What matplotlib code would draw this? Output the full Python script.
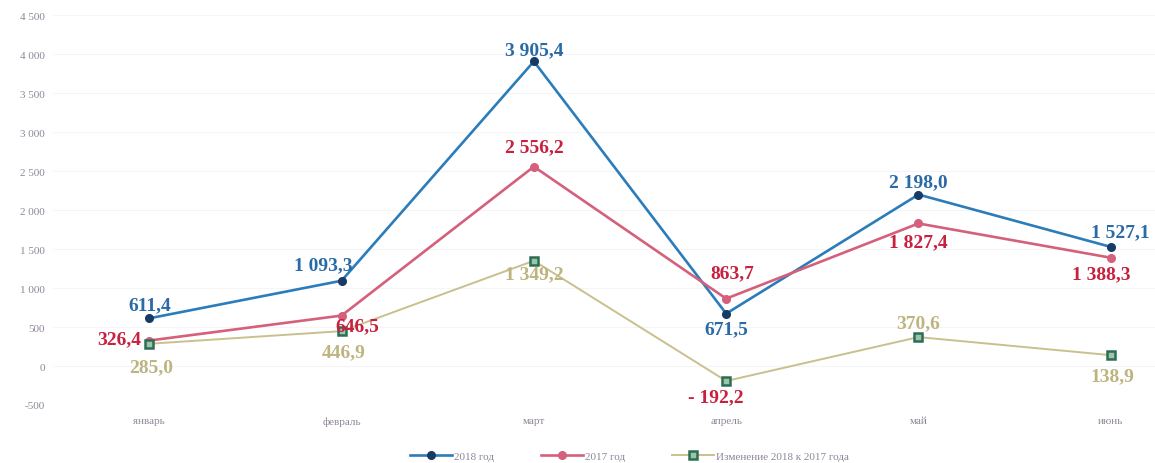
import matplotlib.pyplot as plt
import numpy as np

# Data
months = ['январь', 'февраль', 'март', 'апрель', 'май', 'июнь']
y2018 = [611.4, 1093.3, 3905.4, 671.5, 2198.0, 1527.1]
y2017 = [326.4, 646.5, 2556.2, 863.7, 1827.4, 1388.3]
change = [285.0, 446.9, 1349.2, -192.2, 370.6, 138.9]
yticks = [-500, 0, 500, 1000, 1500, 2000, 2500, 3000, 3500, 4000, 4500]


def fmt(v):
    s = f'{abs(v):,.1f}'.replace(',', ' ').replace('.', ',')
    return ('- ' if v < 0 else '') + s


serif = 'Liberation Serif'
blue_line, blue_dot, blue_txt = '#2b7cba', '#173a66', '#2a6aa6'
red_line, red_txt = '#d4607c', '#c8203f'
khaki_line, khaki_txt, green_dot = '#c9c08e', '#bdb47f', '#2a6e55'

fig = plt.figure(figsize=(11.55, 4.64), dpi=100)
ax = fig.add_axes([0.046, 0.125, 0.954, 0.8405])
x = np.arange(len(months))

ax.plot(x, y2018, color=blue_line, lw=1.9, marker='o', ms=5.5,
        mfc=blue_dot, mec=blue_dot, label='2018 год', zorder=3)
ax.plot(x, y2017, color=red_line, lw=1.9, marker='o', ms=5.5,
        mfc=red_line, mec=red_line, label='2017 год', zorder=3)
ax.plot(x, change, color=khaki_line, lw=1.4, marker='s', ms=5.5,
        mfc='#9fc3a8', mec=green_dot, mew=1.8,
        label='Изменение 2018 к 2017 года', zorder=3)

ax.set_xlim(-0.5, 5.23)
ax.set_ylim(-500, 4500)
ax.set_xticks(x)
ax.set_xticklabels(months)
ax.set_yticks(yticks)
ax.set_yticklabels([f'{t:,}'.replace(',', ' ') for t in yticks])
ax.tick_params(length=0, colors='#8f8598', labelsize=8)
ax.tick_params(axis='x', pad=8)
ax.tick_params(axis='y', pad=6)
for lbl in ax.get_xticklabels() + ax.get_yticklabels():
    lbl.set_fontfamily(serif)
ax.grid(axis='y', color='#f5f4f6', lw=0.8)
for s in ax.spines.values():
    s.set_visible(False)

# label offsets in pixels (dx, dy) and alignment
off18 = [(0, 14, 'center'), (-18, 16, 'center'), (0, 12, 'center'),
         (0, -15, 'center'), (0, 13, 'center'), (10, 15, 'center')]
off17 = [(-8, 2, 'right'), (-6, -10, 'left'), (0, 20, 'center'),
         (6, 26, 'center'), (0, -18, 'center'), (-10, -16, 'center')]
offch = [(2, -23, 'center'), (2, -21, 'center'), (0, -13, 'center'),
         (-10, -16, 'center'), (0, 14, 'center'), (2, -21, 'center')]

px = 0.72  # points per pixel at 100 dpi


def put(val, xi, off, color):
    dx, dy, ha = off
    ax.annotate(fmt(val), (xi, val), xytext=(dx * px, dy * px),
                textcoords='offset points', ha=ha, va='center',
                color=color, fontsize=14, fontweight='bold', family=serif,
                zorder=4)


for i in range(len(months)):
    put(y2018[i], x[i], off18[i], blue_txt)
    put(y2017[i], x[i], off17[i], red_txt)
    put(change[i], x[i], offch[i], red_txt if change[i] < 0 else khaki_txt)

leg = fig.legend(loc='lower center', bbox_to_anchor=(0.545, -0.018), ncol=3,
                 frameon=False, fontsize=8, handlelength=3.8,
                 columnspacing=4.2, handletextpad=0.2)
for t in leg.get_texts():
    t.set_color('#8f8598')
    t.set_fontfamily(serif)

fig.savefig('out.png', dpi=100)
